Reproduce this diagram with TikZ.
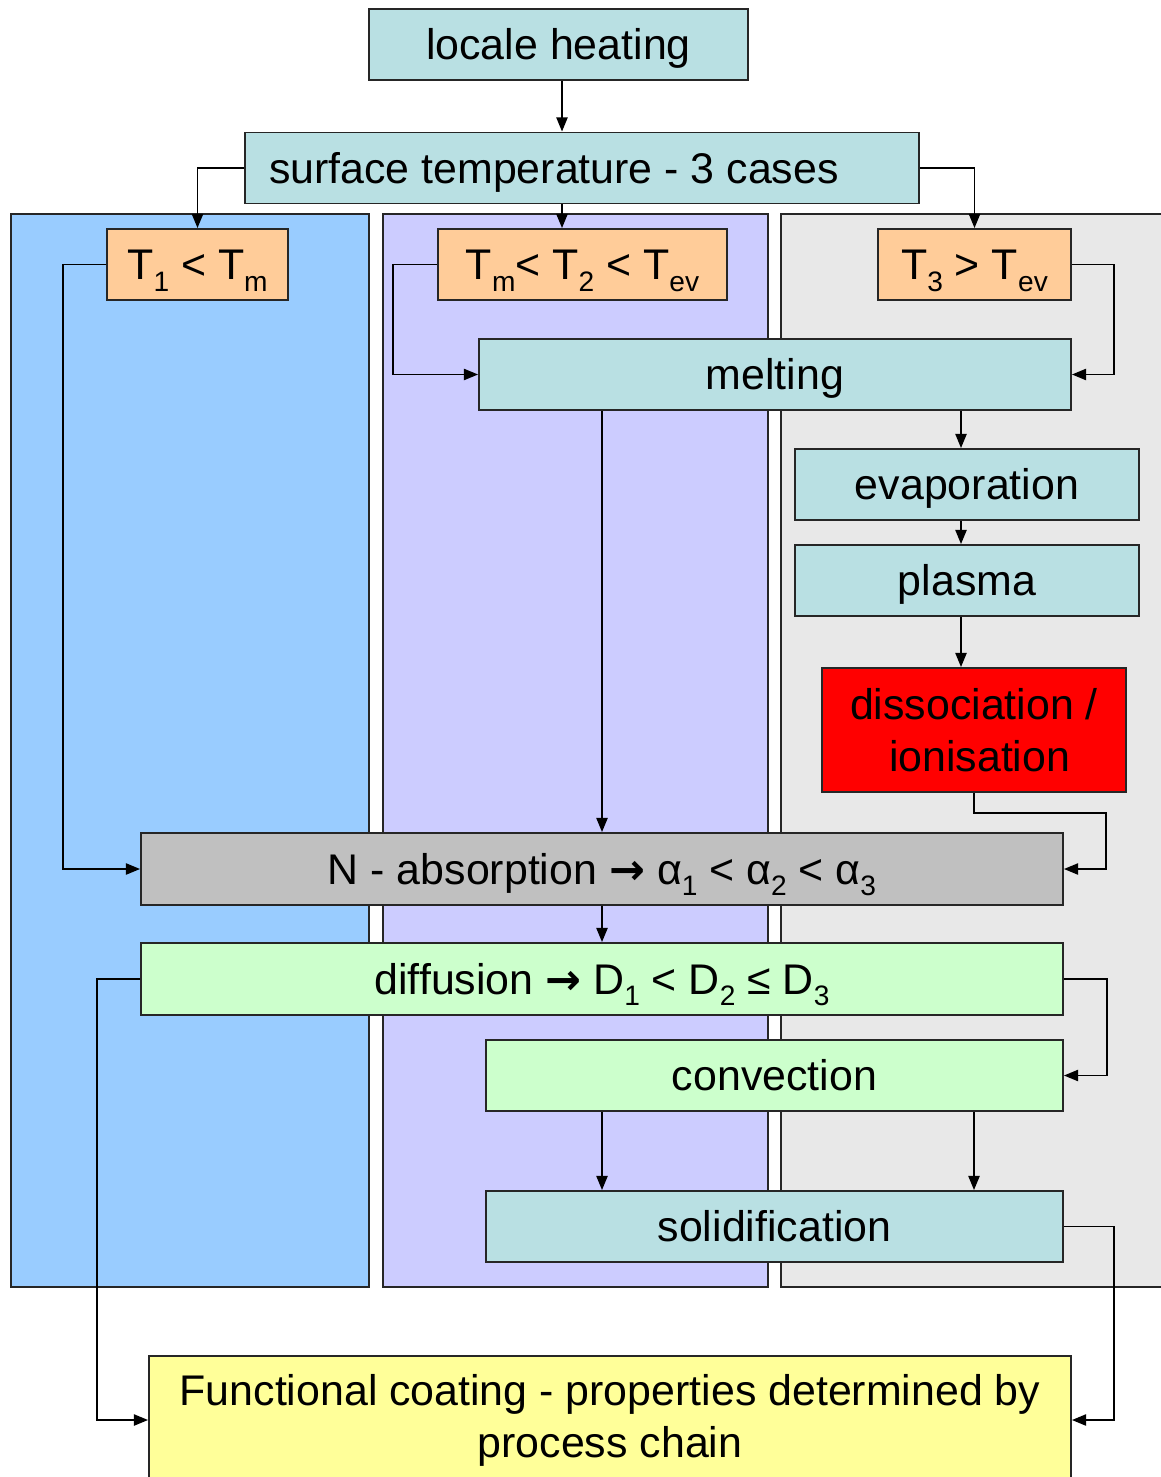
\documentclass[tikz,border=0pt]{standalone}
\usepackage{fontspec}
\setmainfont{Liberation Sans}
\newfontfamily\arrowfont{DejaVu Sans}
\usetikzlibrary{arrows.meta}
\definecolor{cyanbox}{HTML}{B9E0E3}
\definecolor{orangebox}{HTML}{FFCC99}
\definecolor{greenbox}{HTML}{CCFFCC}
\definecolor{yellowbox}{HTML}{FFFF99}
\definecolor{greybox}{HTML}{C0C0C0}
\definecolor{bluepanel}{HTML}{99CCFF}
\definecolor{lilacpanel}{HTML}{CCCCFF}
\definecolor{greypanel}{HTML}{E8E8E8}
\newcommand{\lowsub}[1]{\raisebox{-8pt}{\fontsize{20}{20}\selectfont #1}}
\newcommand{\bigarrow}{{\arrowfont\bfseries →}}
\tikzset{
	box/.style={draw=black!85, line width=1.4pt, inner sep=0pt, font=\fontsize{30.5}{37}\selectfont},
	oneline/.style={text height=26pt, text depth=4.2pt},
	wh/.style 2 args={minimum width=#1*0.025cm, minimum height=#2*0.025cm},
	panel/.style={draw=black!85, line width=1.4pt},
	link/.style={line width=1pt, ->}
}
\begin{document}
\begin{tikzpicture}[x=0.025cm, y=-0.025cm, >={Triangle[length=10pt,width=8pt]}]
	\clip (0,0) rectangle (1161,1477);
	%Hintergrundfelder der drei Faelle
	\draw[panel, fill=bluepanel] (11,214) rectangle (369,1287);
	\draw[panel, fill=lilacpanel] (383,214) rectangle (768,1287);
	\draw[panel, fill=greypanel] (781,214) rectangle (1175,1287);
	%Kaesten
	\node[box, oneline, wh={379}{71}, fill=cyanbox] (heat) at (558.5,44.5) {locale heating};
	\node[box, oneline, wh={674}{71}, fill=cyanbox] (surf) at (582,168) {surface temperature - 3 cases\kern40pt};
	\node[box, oneline, wh={181}{71}, fill=orangebox] (tone) at (197.5,264.5) {T\lowsub{1} < T\lowsub{m}};
	\node[box, oneline, wh={289}{71}, fill=orangebox] (ttwo) at (582.5,264.5) {T\lowsub{m}< T\lowsub{2} < T\lowsub{ev}};
	\node[box, oneline, wh={193}{71}, fill=orangebox] (tthree) at (974.5,264.5) {T\lowsub{3} > T\lowsub{ev}};
	\node[box, oneline, wh={592}{71}, fill=cyanbox] (melt) at (775,374.5) {melting};
	\node[box, oneline, wh={344}{71}, fill=cyanbox] (evap) at (967,484.5) {evaporation};
	\node[box, oneline, wh={344}{71}, fill=cyanbox] (plasma) at (967,580.5) {plasma};
	\node[box, align=center, wh={304}{124}, fill=red] (diss) at (974,730) {dissociation /\\ \hspace{8pt}ionisation};
	\node[box, oneline, wh={922}{72}, fill=greybox] (absorb) at (602,869) {N - absorption \bigarrow{} α\lowsub{1} < α\lowsub{2} < α\lowsub{3}};
	\node[box, oneline, wh={922}{72}, fill=greenbox] (diffus) at (602,979) {diffusion \bigarrow{} D\lowsub{1} < D\lowsub{2} ≤ D\lowsub{3}};
	\node[box, oneline, wh={577}{71}, fill=greenbox] (convec) at (774.5,1075.5) {convection};
	\node[box, oneline, wh={577}{71}, fill=cyanbox] (solid) at (774.5,1226.5) {solidification};
	\node[box, align=center, wh={922}{128}, fill=yellowbox] (coat) at (610,1420) {Functional coating - properties determined by\\ process chain};
	%Pfeile
	\coordinate (mx) at (562,0);
	\coordinate (rx) at (961,0);
	\coordinate (rr) at (1106,0);
	\draw[link] (heat.south -| mx) -- (surf.north -| mx);
	\draw[link] (surf.west) -| (tone.north);
	\draw[link] (surf.south -| mx) -- (ttwo.north -| mx);
	\draw[link] (surf.east) -| (tthree.north);
	\draw[link] (tone.west) -- ++(-43,0) |- (absorb.west);
	\draw[link] (ttwo.west) -- ++(-44,0) |- (melt.west);
	\draw[link] (tthree.east) -- ++(42,0) |- (melt.east);
	\draw[link] (melt.south -| rx) -- (evap.north -| rx);
	\draw[link] (evap.south -| rx) -- (plasma.north -| rx);
	\draw[link] (plasma.south -| rx) -- (diss.north -| rx);
	\draw[link] (diss.south) -- ++(0,20) -| (absorb.east -| rr) -- (absorb.east);
	\draw[link] (melt.south -| absorb.north) -- (absorb.north);
	\draw[link] (absorb) -- (diffus);
	\draw[link] (diffus.west) -- ++(-43,0) |- (coat.west);
	\draw[link] (diffus.east) -- ++(43,0) |- (convec.east);
	\draw[link] (convec.south -| absorb.south) -- (solid.north -| absorb.south);
	\draw[link] (convec.south -| diss.south) -- (solid.north -| diss.south);
	\draw[link] (solid.east) -- ++(50,0) |- (coat.east);
\end{tikzpicture}
\end{document}
